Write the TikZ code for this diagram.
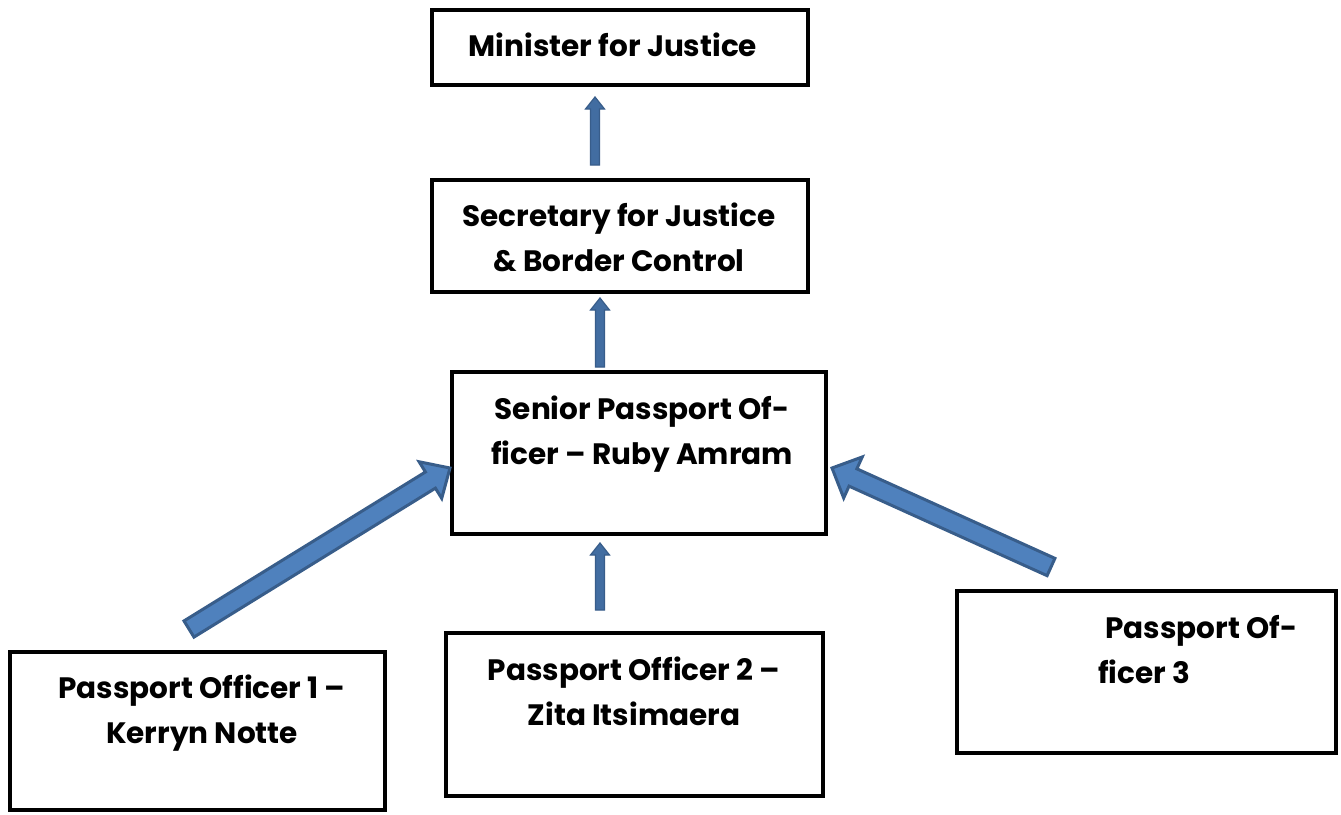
\documentclass[tikz,border=0pt]{standalone}
\usepackage{fontspec}
\setmainfont{Poppins}
\usetikzlibrary{calc}
\definecolor{arrfill}{HTML}{4F81BD}
\definecolor{arrline}{HTML}{385D8A}
\tikzset{
  box/.style={draw=black, line width=4pt, rectangle, inner sep=0pt},
  lbl/.style={font=\fontsize{29.5}{45}\selectfont\bfseries, align=center, inner sep=0pt},
  blockarrow/.style={fill=arrfill, draw=arrline, line width=3pt, line join=miter},
  thinarrow/.style={fill=arrfill!45!arrline, draw=arrline, line width=1.2pt, line join=miter},
}
\newcommand{\blockarr}[6]{%
  \path (#2) coordinate (ba-s) (#3) coordinate (ba-e);
  \path ($(ba-e)!#6!(ba-s)$) coordinate (ba-h);
  \filldraw[#1] ($(ba-s)!#4!90:(ba-e)$) -- ($(ba-h)!#4!-90:(ba-s)$) -- ($(ba-h)!#5!-90:(ba-s)$) -- (ba-e) -- ($(ba-h)!#5!90:(ba-s)$) -- ($(ba-h)!#4!90:(ba-s)$) -- ($(ba-s)!#4!-90:(ba-e)$) -- cycle;
}
\begin{document}
\begin{tikzpicture}[x=1pt,y=-1pt]
\useasboundingbox (0,0) rectangle (1341,814);
\fill[white] (0,0) rectangle (1341,814);
% boxes
\node[box, minimum width=376pt, minimum height=75pt] (min) at (620,47.5) {};
\node[box, minimum width=376pt, minimum height=112pt] (sec) at (620,236) {};
\node[box, minimum width=374pt, minimum height=162pt] (sen) at (639,453) {};
\node[box, minimum width=375pt, minimum height=158pt] (po1) at (197.5,731) {};
\node[box, minimum width=377pt, minimum height=163pt] (po2) at (634.5,714.5) {};
\node[box, minimum width=379pt, minimum height=162pt] (po3) at (1146.5,672) {};
% labels (anchor base = baseline of last line)
\node[lbl, anchor=base] (tmin) at (613,56) {Minister for Justice};
\node[lbl, anchor=base] (tsec) at (619,271) {Secretary for Justice\\\& Border Control};
\node[lbl, anchor=base] (tsen) at (642,464) {Senior Passport Of-\\ficer – Ruby Amram};
\node[lbl, anchor=base] (tpo1) at (202,743) {Passport Officer 1 –\\Kerryn Notte};
\node[lbl, anchor=base] (tpo2) at (634,725) {Passport Officer 2 –\\Zita Itsimaera};
\node[lbl, anchor=base west, align=left] (tpo3) at (1098,683) {\hspace*{7pt}Passport Of-\\ficer 3};
% arrow end points
\coordinate (a1s) at (595,165); \coordinate (a1e) at (595,97);
\coordinate (a2s) at (600,367); \coordinate (a2e) at (600,298);
\coordinate (a3s) at (600,610); \coordinate (a3e) at (600,543);
\coordinate (a4s) at (189,629); \coordinate (a4e) at (450,468);
\coordinate (a5s) at (1051,567); \coordinate (a5e) at (832,468);
\blockarr{thinarrow}{a1s}{a1e}{4.5pt}{9.5pt}{12pt}
\blockarr{thinarrow}{a2s}{a2e}{4.5pt}{9.5pt}{12pt}
\blockarr{thinarrow}{a3s}{a3e}{4.5pt}{9.5pt}{12pt}
\blockarr{blockarrow}{a4s}{a4e}{9.5pt}{21.5pt}{23pt}
\blockarr{blockarrow}{a5s}{a5e}{9.5pt}{22.5pt}{23pt}
\end{tikzpicture}
\end{document}
